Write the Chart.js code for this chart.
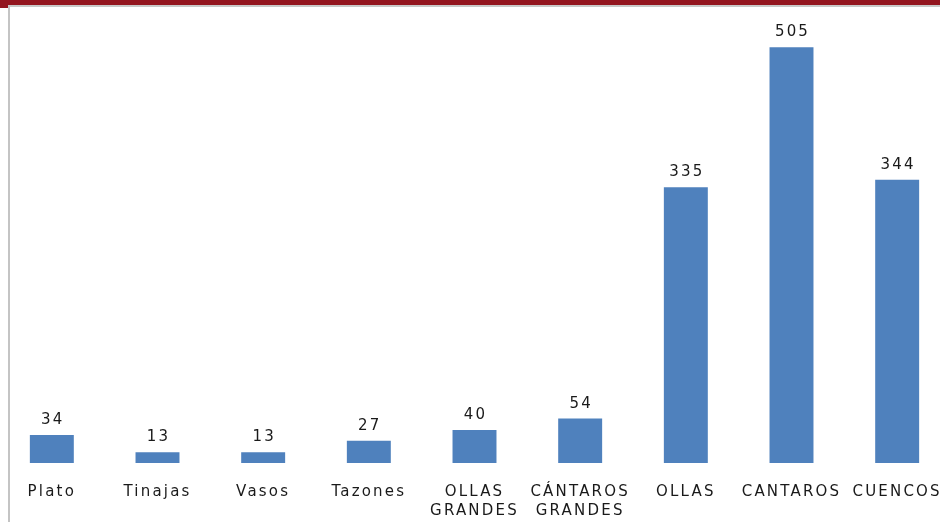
<!DOCTYPE html>
<html>
<head>
<meta charset="utf-8">
<title>Piezas cerámicas</title>
<script src="https://cdn.jsdelivr.net/npm/chart.js@4.4.0/dist/chart.umd.min.js"></script>
<style>
    html, body {
        margin: 0;
        padding: 0;
        background: #ffffff;
    }
    .frame {
        position: relative;
        width: 940px;
        height: 522px;
        overflow: hidden;
        background: #ffffff;
    }
    .chart-box {
        position: absolute;
        left: -1px;
        top: 0;
        width: 951px;
        height: 522px;
    }
    .top-band {
        position: absolute;
        left: 0;
        top: 0;
        width: 940px;
        height: 5px;
        background: #93151f;
        border-bottom: 2px solid #c8c8c8;
    }
    .corner {
        position: absolute;
        left: 0;
        top: 0;
        width: 8px;
        height: 8px;
        background: #93151f;
    }
    .side-line {
        position: absolute;
        left: 8px;
        top: 6px;
        width: 2px;
        height: 516px;
        background: #c4c4c4;
    }
</style>
</head>
<body>
<div class="frame">
    <div class="chart-box"><canvas id="piezasChart"></canvas></div>
    <div class="top-band"></div>
    <div class="corner"></div>
    <div class="side-line"></div>
</div>

<script>
// Categories and counts
const categories = [
    "Plato", "Tinajas", "Vasos", "Tazones",
    ["OLLAS", "GRANDES"], ["CÁNTAROS", "GRANDES"],
    "OLLAS", "CANTAROS", "CUENCOS"
];
const counts = [34, 13, 13, 27, 40, 54, 335, 505, 344];

const BAR_COLOR = "#4f81bd";
const TEXT_COLOR = "#1a1a1a";
const FONT_FAMILY = "'DejaVu Sans', Verdana, sans-serif";

// Wider tracking for all canvas text
const letterSpacingPlugin = {
    id: "letterSpacing",
    beforeDraw(chart) {
        chart.ctx.letterSpacing = "2.2px";
    }
};

// Value labels above each bar
const valueLabels = {
    id: "valueLabels",
    afterDatasetsDraw(chart) {
        const ctx = chart.ctx;
        const meta = chart.getDatasetMeta(0);
        ctx.save();
        ctx.letterSpacing = "2.2px";
        ctx.font = "15px " + FONT_FAMILY;
        ctx.fillStyle = TEXT_COLOR;
        ctx.textAlign = "center";
        ctx.textBaseline = "alphabetic";
        meta.data.forEach((bar, i) => {
            ctx.fillText(String(counts[i]), bar.x + 1, bar.y - 11);
        });
        ctx.restore();
    }
};

document.addEventListener("DOMContentLoaded", () => {
    const ctx = document.getElementById("piezasChart").getContext("2d");

    new Chart(ctx, {
        type: "bar",
        data: {
            labels: categories,
            datasets: [{
                data: counts,
                backgroundColor: BAR_COLOR,
                borderWidth: 0,
                barPercentage: 0.416,
                categoryPercentage: 1
            }]
        },
        options: {
            responsive: true,
            maintainAspectRatio: false,
            animation: false,
            layout: {
                padding: { top: 2, left: 0, right: 0, bottom: 0 }
            },
            scales: {
                x: {
                    grid: { display: false },
                    border: { display: false },
                    ticks: {
                        color: TEXT_COLOR,
                        font: { family: FONT_FAMILY, size: 15, lineHeight: 1.25 },
                        padding: 12,
                        maxRotation: 0,
                        autoSkip: false
                    },
                    afterFit(scale) {
                        scale.height = 59;
                    }
                },
                y: {
                    display: false,
                    min: 0,
                    max: 560
                }
            },
            plugins: {
                legend: { display: false },
                tooltip: { enabled: false }
            }
        },
        plugins: [letterSpacingPlugin, valueLabels]
    });
});
</script>
</body>
</html>
